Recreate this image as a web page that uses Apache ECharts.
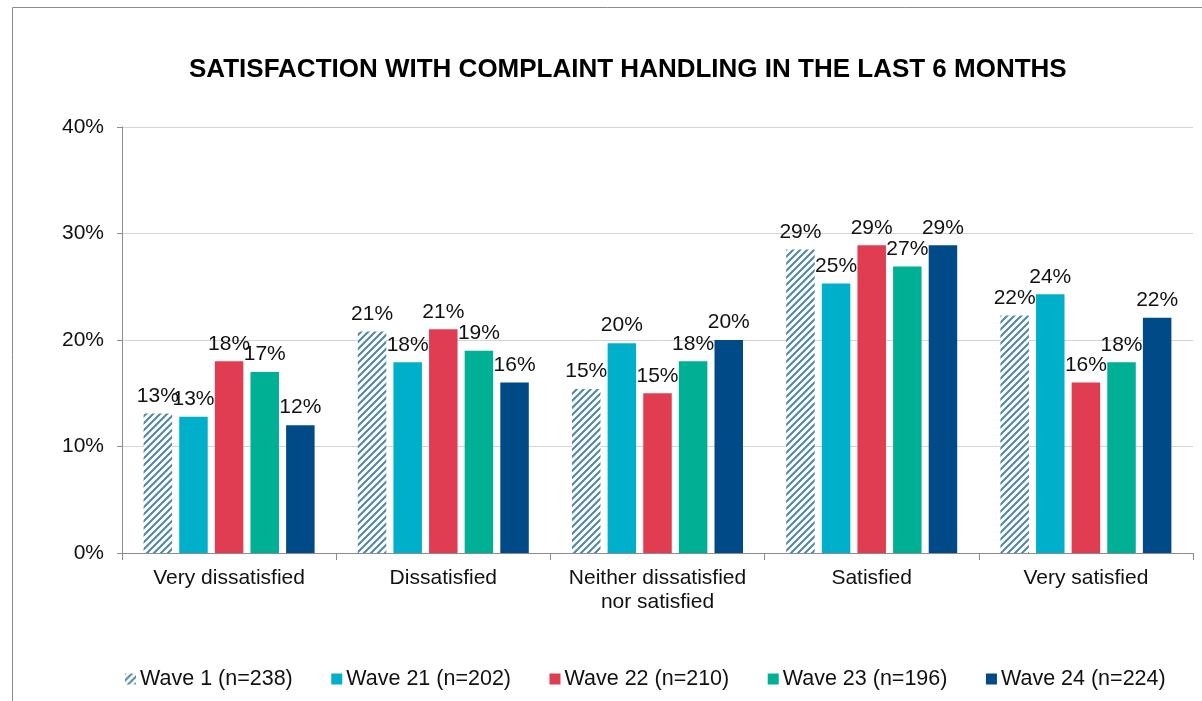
<!DOCTYPE html>
<html>
<head>
<meta charset="utf-8">
<script src="https://cdn.jsdelivr.net/npm/echarts@6/dist/echarts.min.js"></script>
<style>
  html, body { margin: 0; padding: 0; background: #fff; }
  #chart { width: 1202px; height: 701px; }
</style>
</head>
<body>
<div id="chart"></div>
<script>
const categories = ['Very dissatisfied', 'Dissatisfied', 'Neither dissatisfied\nnor satisfied', 'Satisfied', 'Very satisfied'];
const seriesNames = ['Wave 1 (n=238)', 'Wave 21 (n=202)', 'Wave 22 (n=210)', 'Wave 23 (n=196)', 'Wave 24 (n=224)'];
const wave1 = [13.1, 20.8, 15.4, 28.5, 22.3];
const wave21 = [12.8, 17.9, 19.7, 25.3, 24.3];
const wave22 = [18.0, 21.0, 15.0, 28.9, 16.0];
const wave23 = [17.0, 19.0, 18.0, 26.9, 17.9];
const wave24 = [12.0, 16.0, 20.0, 28.9, 22.1];

// hatch pattern for Wave 1
const makeHatch = () => {
    const c = document.createElement('canvas');
    c.width = 7; c.height = 7;
    const ctx = c.getContext('2d');
    ctx.fillStyle = '#fff';
    ctx.fillRect(0, 0, 7, 7);
    ctx.strokeStyle = '#5189a3';
    ctx.lineWidth = 2.1;
    ctx.beginPath();
    for (let k = -7; k <= 14; k += 7) {
        ctx.moveTo(k - 1, 8);
        ctx.lineTo(k + 8, -1);
    }
    ctx.stroke();
    return c;
};

const colors = [
    { image: makeHatch(), repeat: 'repeat' },
    '#00b0ca', '#e03c52', '#00b095', '#004b87'
];
const allData = [wave1, wave21, wave22, wave23, wave24];

const font = 'Liberation Sans, Arial, sans-serif';

var dom = document.getElementById('chart');
var myChart = echarts.init(dom, null, { renderer: 'canvas' });

var option = {
    animation: false,
    textStyle: { fontFamily: font },
    title: {
        text: 'SATISFACTION WITH COMPLAINT HANDLING IN THE LAST 6 MONTHS',
        left: 184,
        top: 52,
        textStyle: { fontFamily: font, fontSize: 26, fontWeight: 'bold', color: '#000' }
    },
    graphic: [{
        type: 'rect',
        shape: { x: 12.5, y: 7.5, width: 1300, height: 800 },
        style: { fill: 'none', stroke: '#8c8c8c', lineWidth: 1 },
        silent: true
    }],
    grid: { left: 122, right: 9, top: 127, bottom: 148 },
    legend: {
        left: 120,
        top: 663,
        itemWidth: 11,
        itemHeight: 11,
        itemGap: 38.5,
        icon: 'rect',
        textStyle: { fontFamily: font, fontSize: 21.5, color: '#111', padding: [0, 0, 0, -1] },
        data: seriesNames
    },
    xAxis: {
        type: 'category',
        data: categories,
        axisLine: { lineStyle: { color: '#8c8c8c' } },
        axisTick: { show: true, interval: 0, length: 7, lineStyle: { color: '#8c8c8c' } },
        axisLabel: { interval: 0, fontFamily: font, fontSize: 21, color: '#111', margin: 13, lineHeight: 24 }
    },
    yAxis: {
        type: 'value',
        min: 0,
        max: 40,
        interval: 10,
        axisLine: { show: true, lineStyle: { color: '#8c8c8c' } },
        axisTick: { show: true, length: 5, lineStyle: { color: '#8c8c8c' } },
        splitLine: { lineStyle: { color: '#d4d4d4' } },
        axisLabel: { fontFamily: font, fontSize: 21, color: '#111', margin: 18, formatter: '{value}%' }
    },
    series: seriesNames.map((name, i) => ({
        name: name,
        type: 'bar',
        data: allData[i],
        barWidth: 28.5,
        barGap: '25%',
        itemStyle: { color: colors[i] },
        label: {
            show: true,
            position: 'top',
            distance: 7,
            fontFamily: font,
            fontSize: 21,
            color: '#111',
            formatter: (p) => Math.round(p.value) + '%'
        }
    }))
};

if (option && typeof option === 'object') {
    myChart.setOption(option);
}
window.addEventListener('resize', myChart.resize);
</script>
</body>
</html>
